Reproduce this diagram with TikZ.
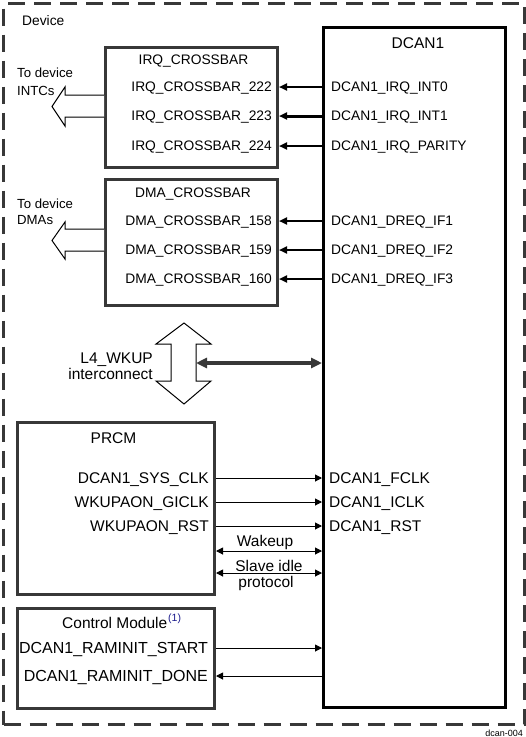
\documentclass[tikz,border=0pt]{standalone}
\usepackage{fontspec}
\setmainfont{Liberation Sans}
\usetikzlibrary{arrows.meta}
\definecolor{dg}{HTML}{383838}
\definecolor{navy}{HTML}{1A1A8C}
\begin{document}
\begin{tikzpicture}[x=1pt,y=-1pt,
  sm/.style={font=\fontsize{13.8}{16}\selectfont, inner sep=0pt, text height=9.9pt, text depth=0pt},
  note/.style={font=\fontsize{13.2}{16}\selectfont, inner sep=0pt, text height=9.5pt, text depth=0pt},
  lg/.style={font=\fontsize{15.5}{18}\selectfont, inner sep=0pt, text height=11.1pt, text depth=0pt},
  xl/.style={font=\fontsize{16}{18}\selectfont, inner sep=0pt, text height=11.5pt, text depth=0pt},
  blk/.style={draw=dg, line width=3pt, inner sep=0pt, anchor=north west},
  sig/.style={line width=2pt, -{Triangle[length=8pt,width=7pt]}},
  ctl/.style={line width=1pt, -{Triangle[length=7pt,width=7pt]}},
  bidir/.style={line width=1pt, {Triangle[length=7pt,width=7pt]}-{Triangle[length=7pt,width=7pt]}},
  hollow/.style={draw=black, line width=1pt, fill=white, line join=miter}]
\useasboundingbox (0,0) rectangle (526,737);

% frames
\node[draw=dg, line width=3pt, dash pattern=on 17pt off 9pt, minimum width=521pt, minimum height=721pt, anchor=north west, inner sep=0pt] (device) at (2,2) {};
\node[draw=black, line width=3pt, minimum width=182pt, minimum height=680pt, anchor=north west, inner sep=0pt] (dcan) at (322,26) {};
\node[blk, minimum width=172pt, minimum height=120pt] (irq) at (104,46) {};
\node[blk, minimum width=172pt, minimum height=126pt] (dma) at (104,178) {};
\node[blk, minimum width=197pt, minimum height=172pt] (prcm) at (16,421) {};
\node[blk, minimum width=197pt, minimum height=100pt] (ctrl) at (16,607) {};

% titles
\node[sm, anchor=west] (devlbl) at (22,20.5) {Device};
\node[lg] (dcant) at (418,42.5) {DCAN1};
\node[sm] (irqt) at (193.5,60) {IRQ\_CROSSBAR};
\node[sm] (dmat) at (193,193) {DMA\_CROSSBAR};
\node[lg] (prcmt) at (113.5,437.5) {PRCM};
\node[lg, anchor=west] (ctrlt) at (62,622.5) {Control Module};
\node[font=\fontsize{10.5}{12}\selectfont, text=navy, inner sep=0pt, anchor=west] (fn) at (168,619) {(1)};

% DCAN1 pins
\node[sm, anchor=west] (pi0) at (331,87) {DCAN1\_IRQ\_INT0};
\node[sm, anchor=west] (pi1) at (331,116) {DCAN1\_IRQ\_INT1};
\node[sm, anchor=west] (pip) at (331,146) {DCAN1\_IRQ\_PARITY};
\node[sm, anchor=west] (pd1) at (331,221) {DCAN1\_DREQ\_IF1};
\node[sm, anchor=west] (pd2) at (331,250) {DCAN1\_DREQ\_IF2};
\node[sm, anchor=west] (pd3) at (331,279) {DCAN1\_DREQ\_IF3};

% crossbar inputs
\node[sm, anchor=east] (x222) at (272,87) {IRQ\_CROSSBAR\_222};
\node[sm, anchor=east] (x223) at (272,116) {IRQ\_CROSSBAR\_223};
\node[sm, anchor=east] (x224) at (272,146) {IRQ\_CROSSBAR\_224};
\node[sm, anchor=east] (x158) at (272,221) {DMA\_CROSSBAR\_158};
\node[sm, anchor=east] (x159) at (272,250) {DMA\_CROSSBAR\_159};
\node[sm, anchor=east] (x160) at (272,279) {DMA\_CROSSBAR\_160};

\draw[sig] (pi0.west -| dcan.west) -- (x222.east -| irq.east);
\draw[sig, line width=3pt] (pi1.west -| dcan.west) -- (x223.east -| irq.east);
\draw[sig] (pip.west -| dcan.west) -- (x224.east -| irq.east);
\draw[sig] (pd1.west -| dcan.west) -- (x158.east -| dma.east);
\draw[sig] (pd2.west -| dcan.west) -- (x159.east -| dma.east);
\draw[sig] (pd3.west -| dcan.west) -- (x160.east -| dma.east);

% outgoing hollow arrows
\draw[hollow] (104,95) -- (65,95) -- (65,87) -- (52,106.5) -- (65,126) -- (65,117) -- (104,117);
\node[note, anchor=west] (tod1) at (17,73) {To device};
\node[note, anchor=west] (intc) at (17,90.5) {INTCs};
\draw[hollow] (104,229) -- (65,229) -- (65,222) -- (52,240.5) -- (65,259) -- (65,251) -- (104,251);
\node[note, anchor=west] (tod2) at (17,204) {To device};
\node[note, anchor=west] (dmas) at (17,220) {DMAs};

% L4_WKUP interconnect
\draw[hollow] (184,323) -- (211,344) -- (196,344) -- (196,381) -- (211,381) -- (184,404)
  -- (156,381) -- (171,381) -- (171,344) -- (156,344) -- cycle;
\node[lg, anchor=east] (l4a) at (153,357.5) {L4\_WKUP};
\node[lg, anchor=east] (l4b) at (153,373.5) {interconnect};
\coordinate (l4r) at (196,363);
\draw[dg, line width=4pt, {Triangle[length=11pt,width=10pt]}-{Triangle[length=11pt,width=10pt]}] (l4r) -- (l4r -| dcan.west);

% PRCM
\node[lg, anchor=east] (sclk) at (209,478) {DCAN1\_SYS\_CLK};
\node[lg, anchor=east] (giclk) at (209,502) {WKUPAON\_GICLK};
\node[lg, anchor=east] (wrst) at (209,526) {WKUPAON\_RST};
\node[lg, anchor=west] (fclk) at (329,478) {DCAN1\_FCLK};
\node[lg, anchor=west] (iclk) at (329,502) {DCAN1\_ICLK};
\node[lg, anchor=west] (drst) at (329,526) {DCAN1\_RST};
\draw[ctl] (sclk.east -| prcm.east) -- (fclk.west -| dcan.west);
\draw[ctl] (giclk.east -| prcm.east) -- (iclk.west -| dcan.west);
\draw[ctl] (wrst.east -| prcm.east) -- (drst.west -| dcan.west);
\coordinate (wk) at (0,551);
\coordinate (si) at (0,573);
\draw[bidir] (prcm.east |- wk) -- (dcan.west |- wk);
\draw[bidir] (prcm.east |- si) -- (dcan.west |- si);
\node[lg] (wkl) at (265,541) {Wakeup};
\node[lg] (sil) at (269,565.5) {Slave idle};
\node[lg] (prl) at (266,582) {protocol};

% Control module
\node[xl, anchor=east] (rstart) at (208,648) {DCAN1\_RAMINIT\_START};
\node[xl, anchor=east] (rdone) at (208,676) {DCAN1\_RAMINIT\_DONE};
\draw[ctl] (rstart.east -| ctrl.east) -- (rstart.east -| dcan.west);
\draw[ctl] (rdone.east -| dcan.west) -- (rdone.east -| ctrl.east);

\node[font=\fontsize{9}{10}\selectfont, inner sep=0pt, anchor=base east] (fig) at (523,736) {dcan-004};
\end{tikzpicture}
\end{document}
